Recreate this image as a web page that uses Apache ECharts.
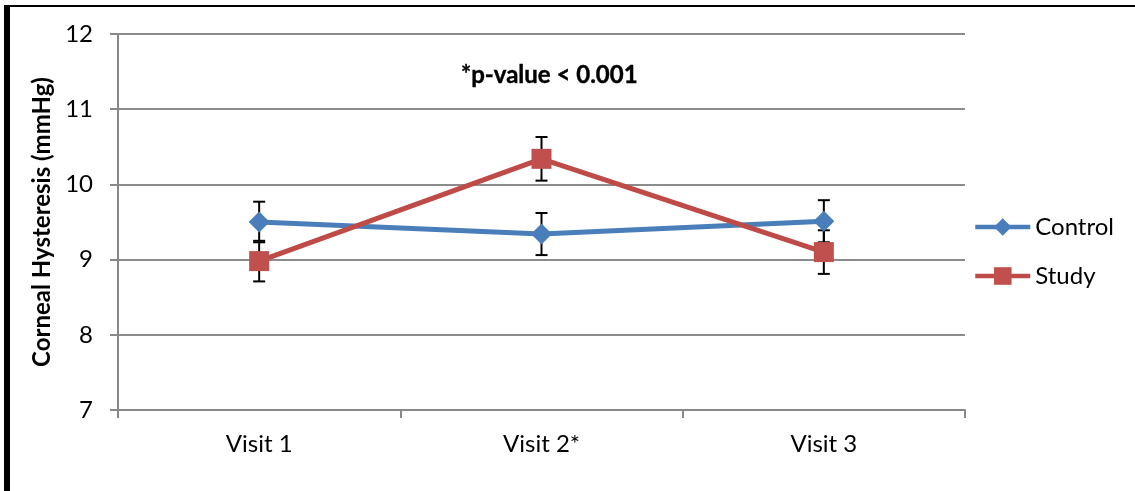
<!DOCTYPE html>
<html>
<head>
<meta charset="utf-8">
<script src="https://cdn.jsdelivr.net/npm/echarts@6/dist/echarts.min.js"></script>
<style>
  html, body { margin: 0; padding: 0; background: #fff; }
  #wrap { position: relative; width: 1135px; height: 491px; overflow: hidden; }
  #chart { position: absolute; left: 0; top: 0; width: 1135px; height: 491px; }
  #bTop { position: absolute; left: 4px; top: 5px; width: 1131px; height: 2px; background: #000; }
  #bLeft { position: absolute; left: 4px; top: 5px; width: 6px; height: 486px; background: #000; }
</style>
</head>
<body>
<div id="wrap">
  <div id="chart"></div>
  <div id="bTop"></div>
  <div id="bLeft"></div>
</div>
<script>
const categories = ['Visit 1', 'Visit 2*', 'Visit 3'];
const controlMean = [9.50, 9.34, 9.51];
const controlErr = [0.27, 0.28, 0.28];
const studyMean = [8.98, 10.34, 9.10];
const studyErr = [0.27, 0.29, 0.29];
const yTicks = [7, 8, 9, 10, 11, 12];
const titleText = '*p-value < 0.001';
const yName = 'Corneal Hysteresis (mmHg)';

const FONT = 'Lato, "Open Sans", sans-serif';

function errData(mean, err) {
  return mean.map((m, i) => [i, m - err[i], m + err[i]]);
}
function errRender(params, api) {
  const i = api.value(0);
  const lo = api.coord([i, api.value(1)]);
  const hi = api.coord([i, api.value(2)]);
  const hw = 6;
  const st = { stroke: '#000', lineWidth: 2 };
  return {
    type: 'group',
    children: [
      { type: 'line', shape: { x1: hi[0], y1: hi[1], x2: lo[0], y2: lo[1] }, style: st },
      { type: 'line', shape: { x1: hi[0] - hw, y1: hi[1], x2: hi[0] + hw, y2: hi[1] }, style: st },
      { type: 'line', shape: { x1: lo[0] - hw, y1: lo[1], x2: lo[0] + hw, y2: lo[1] }, style: st }
    ]
  };
}

const chart = echarts.init(document.getElementById('chart'), null, { renderer: 'canvas' });
chart.setOption({
  animation: false,
  backgroundColor: '#fff',
  title: {
    text: titleText,
    left: 456, top: 58,
    textStyle: { fontFamily: FONT, fontWeight: 'bold', fontSize: 24, color: '#000', textBorderColor: '#000', textBorderWidth: 0.4 }
  },
  legend: {
    orient: 'vertical',
    left: 968, top: 210,
    itemWidth: 55, itemHeight: 22,
    itemGap: 25,
    lineStyle: { width: 4.5 },
    textStyle: { fontFamily: FONT, fontSize: 24, color: '#000', lineHeight: 22 },
    data: ['Control', 'Study']
  },
  grid: { left: 118, right: 170, top: 34, bottom: 81, containLabel: false },
  xAxis: {
    type: 'category',
    data: categories,
    boundaryGap: true,
    axisLine: { lineStyle: { color: '#888', width: 2 } },
    axisTick: { show: true, length: 8, lineStyle: { color: '#888', width: 2 } },
    axisLabel: { fontFamily: FONT, fontSize: 24, color: '#000', margin: 22 }
  },
  yAxis: {
    type: 'value',
    min: yTicks[0], max: yTicks[yTicks.length - 1], interval: 1,
    name: yName,
    nameLocation: 'middle',
    nameGap: 64,
    nameRotate: 90,
    nameTextStyle: { fontFamily: FONT, fontWeight: 'bold', fontSize: 24, color: '#000' },
    axisLine: { show: true, lineStyle: { color: '#888', width: 2 } },
    axisTick: { show: true, length: 8, lineStyle: { color: '#888', width: 2 } },
    axisLabel: { fontFamily: FONT, fontSize: 24, color: '#000', margin: 25 },
    splitLine: { show: true, lineStyle: { color: '#8c8c8c', width: 2 } }
  },
  series: [
    {
      name: 'ControlErr', type: 'custom', z: 1,
      renderItem: errRender, data: errData(controlMean, controlErr),
      encode: { x: 0, y: [1, 2] }, silent: true
    },
    {
      name: 'StudyErr', type: 'custom', z: 1,
      renderItem: errRender, data: errData(studyMean, studyErr),
      encode: { x: 0, y: [1, 2] }, silent: true
    },
    {
      name: 'Control', type: 'line', z: 3,
      data: controlMean,
      symbol: 'diamond', symbolSize: 21,
      lineStyle: { color: '#4a7ebb', width: 5 },
      itemStyle: { color: '#4a7ebb', borderWidth: 0 }
    },
    {
      name: 'Study', type: 'line', z: 4,
      data: studyMean,
      symbol: 'rect', symbolSize: 20,
      lineStyle: { color: '#be4b48', width: 5 },
      itemStyle: { color: '#c0504d', borderWidth: 0 }
    }
  ]
});
</script>
</body>
</html>
